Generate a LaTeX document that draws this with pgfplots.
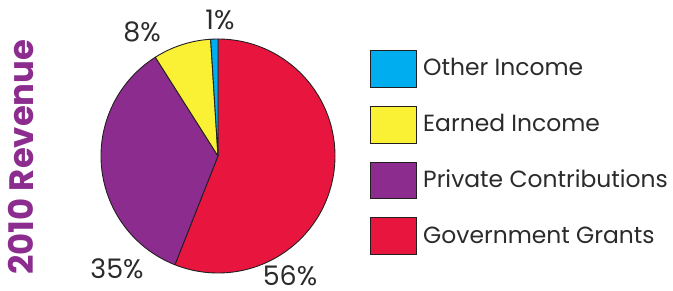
\documentclass[border=0pt]{standalone}
\usepackage{pgfplots}
\usepackage{pgfplotstable}
\pgfplotsset{compat=1.18}
\usepackage{fontspec}
\setmainfont{Poppins}
\definecolor{cOther}{HTML}{00AEEF}
\definecolor{cEarn}{HTML}{FAF034}
\definecolor{cPriv}{HTML}{8B2C8E}
\definecolor{cGov}{HTML}{E8163F}
\definecolor{edge}{HTML}{231F20}
\definecolor{txt}{HTML}{2B2B2B}
\definecolor{ttl}{HTML}{8B2C8E}

% shares in percent, drawn clockwise from 12 o'clock
\pgfplotstableread{
share
56
35
8
1
}\piedata

\begin{document}
\begin{tikzpicture}
\pgfplotstablegetelem{0}{share}\of\piedata \pgfmathsetmacro{\eA}{90-3.6*\pgfplotsretval}
\pgfplotstablegetelem{1}{share}\of\piedata \pgfmathsetmacro{\eB}{\eA-3.6*\pgfplotsretval}
\pgfplotstablegetelem{2}{share}\of\piedata \pgfmathsetmacro{\eC}{\eB-3.6*\pgfplotsretval}
\pgfplotstablegetelem{3}{share}\of\piedata \pgfmathsetmacro{\eD}{\eC-3.6*\pgfplotsretval}
\begin{axis}[width=673bp,height=291bp,scale only axis,
  xmin=0,xmax=673,ymin=0,ymax=291,hide axis,clip=false]
\path (axis cs:0,0) rectangle (axis cs:673,291);
% pie slices
\filldraw[fill=cGov,draw=edge,line width=0.9bp,line join=round]
  (axis cs:218,135) -- ++(90:117bp) arc[start angle=90,end angle=\eA,radius=117bp] -- cycle;
\filldraw[fill=cPriv,draw=edge,line width=0.9bp,line join=round]
  (axis cs:218,135) -- ++(\eA:117bp) arc[start angle=\eA,end angle=\eB,radius=117bp] -- cycle;
\filldraw[fill=cEarn,draw=edge,line width=0.9bp,line join=round]
  (axis cs:218,135) -- ++(\eB:117bp) arc[start angle=\eB,end angle=\eC,radius=117bp] -- cycle;
\filldraw[fill=cOther,draw=edge,line width=0.9bp,line join=round]
  (axis cs:218,135) -- ++(\eC:117bp) arc[start angle=\eC,end angle=\eD,radius=117bp] -- cycle;
% slice labels
\node[txt,anchor=base,inner sep=0pt,font=\fontsize{27}{30}\selectfont] at (axis cs:220,261) {1\%};
\node[txt,anchor=base,inner sep=0pt,font=\fontsize{27}{30}\selectfont] at (axis cs:142,249) {8\%};
\node[txt,anchor=base,inner sep=0pt,font=\fontsize{27}{30}\selectfont] at (axis cs:117,13) {35\%};
\node[txt,anchor=base,inner sep=0pt,font=\fontsize{27}{30}\selectfont] at (axis cs:290,5.5) {56\%};
% title
\node[ttl,rotate=90,font=\fontsize{34}{38}\selectfont\bfseries] at (axis cs:21,134) {2010 Revenue};
% legend
\filldraw[fill=cOther,draw=edge,line width=0.9bp] (axis cs:370,241) rectangle (axis cs:416,204);
\filldraw[fill=cEarn,draw=edge,line width=0.9bp] (axis cs:370,185) rectangle (axis cs:416,148);
\filldraw[fill=cPriv,draw=edge,line width=0.9bp] (axis cs:370,129) rectangle (axis cs:416,93);
\filldraw[fill=cGov,draw=edge,line width=0.9bp] (axis cs:370,74) rectangle (axis cs:416,37);
\node[txt,anchor=base west,inner sep=0pt,font=\fontsize{23.5}{26}\selectfont] at (axis cs:423,215) {Other Income};
\node[txt,anchor=base west,inner sep=0pt,font=\fontsize{23.5}{26}\selectfont] at (axis cs:423,159) {Earned Income};
\node[txt,anchor=base west,inner sep=0pt,font=\fontsize{23.5}{26}\selectfont] at (axis cs:423,103) {Private Contributions};
\node[txt,anchor=base west,inner sep=0pt,font=\fontsize{23.5}{26}\selectfont] at (axis cs:423,47.5) {Government Grants};
\end{axis}
\end{tikzpicture}
\end{document}
